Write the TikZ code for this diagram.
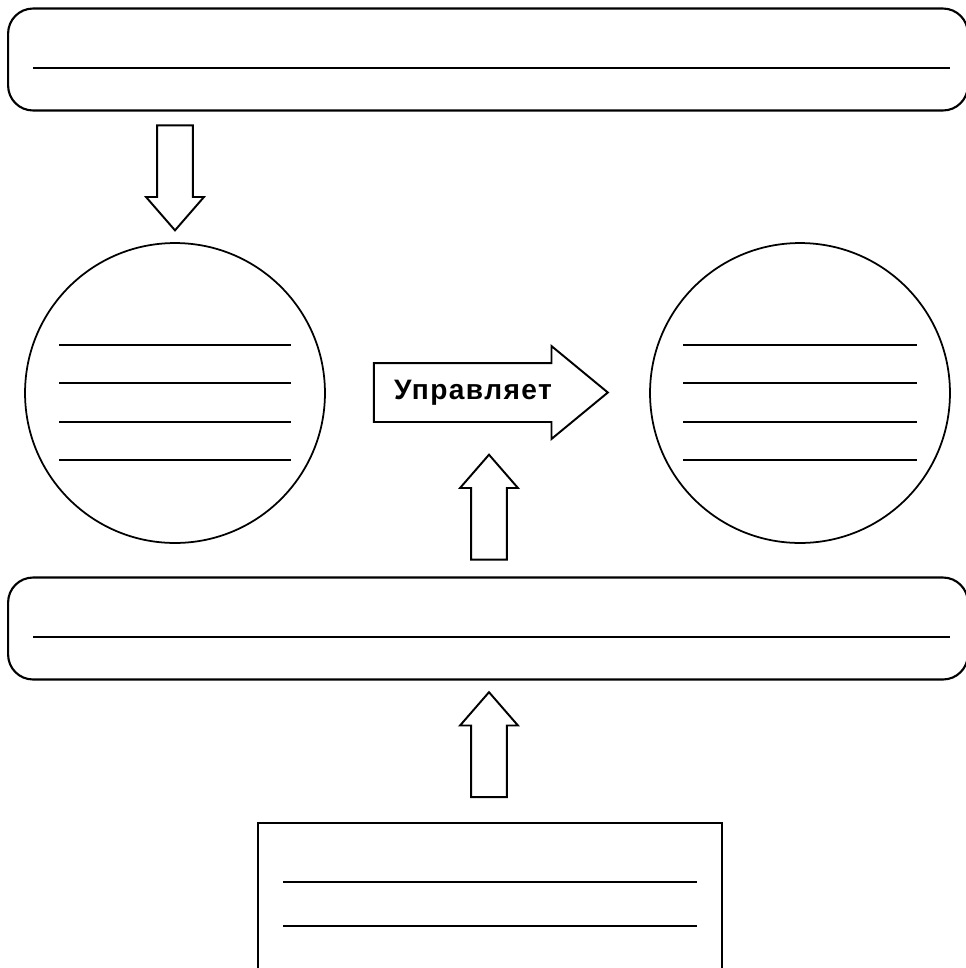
\documentclass[tikz,border=0pt]{standalone}
\usepackage{fontspec}
\setmainfont{Liberation Sans}
\newfontfamily\labelfont[LetterSpace=5]{Liberation Sans}
\usetikzlibrary{shapes.arrows, positioning}

\begin{document}
\begin{tikzpicture}[x=0.02cm, y=-0.02cm,
  panel/.style={rectangle, draw, line width=1.2pt, rounded corners=0.5cm,
                minimum width=19.2cm, minimum height=2.04cm},
  disc/.style={circle, draw, line width=1pt, minimum size=6cm, inner sep=0pt},
  card/.style={rectangle, draw, line width=1.2pt,
               minimum width=9.28cm, minimum height=3.04cm},
  fatarrow/.style={single arrow, draw, line width=1.1pt, inner sep=0.34cm,
                   single arrow tip angle=82, single arrow head extend=0.22cm,
                   minimum width=1.12cm, minimum height=2.1cm},
  rule/.style={line width=0.8pt}
]
\useasboundingbox (0,0) rectangle (966,968);
\clip (0,0) rectangle (966,968);

\node[panel] (top) at (488,59.5) {};
\draw[rule] (33,68) -- (950,68);

\node[fatarrow, shape border rotate=270] (down) at (175,167.5) {};

\node[disc] (left)  at (175,393) {};
\node[disc] (right) at (800,393) {};
\foreach \y in {345,383,422,460} {
  \draw[rule] (59,\y) -- (291,\y);
  \draw[rule] (683,\y) -- (917,\y);
}

\node[fatarrow, inner xsep=0pt, inner ysep=0.3cm, text height=0.4cm, text depth=0.14cm,
      minimum width=1.82cm, minimum height=4.68cm,
      single arrow head extend=0.34cm, single arrow tip angle=79,
      font=\labelfont\bfseries\fontsize{16}{19}\selectfont] (ctrl) at (473,392.5) {Управляет};

\node[fatarrow, shape border rotate=90] (up1) at (489,517.5) {};

\node[panel] (mid) at (488,628.5) {};
\draw[rule] (33,637) -- (950,637);

\node[fatarrow, shape border rotate=90] (up2) at (489,755) {};

\node[card] (src) at (490,899) {};
\draw[rule] (283,882) -- (697,882);
\draw[rule] (283,926) -- (697,926);
\end{tikzpicture}
\end{document}
